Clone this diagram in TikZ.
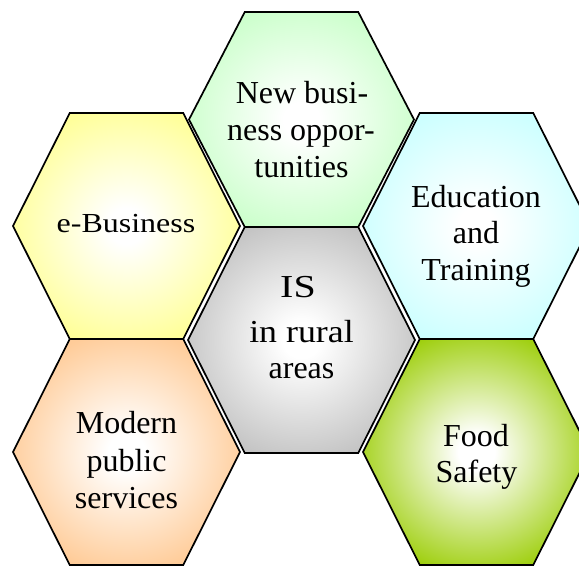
\documentclass[tikz,border=0pt]{standalone}
\usepackage{fontspec}
\setmainfont{Liberation Serif}
\pgfdeclareradialshading{shYellow}{\pgfpoint{0bp}{0bp}}{rgb(0bp)=(1,1,1);rgb(4bp)=(1,1,1);rgb(27bp)=(1,1,0.6);rgb(50bp)=(1,1,0.6)}
\pgfdeclareradialshading{shLgreen}{\pgfpoint{0bp}{0bp}}{rgb(0bp)=(1,1,1);rgb(4bp)=(1,1,1);rgb(27bp)=(0.8,1,0.8);rgb(50bp)=(0.8,1,0.8)}
\pgfdeclareradialshading{shCyan}{\pgfpoint{0bp}{0bp}}{rgb(0bp)=(1,1,1);rgb(4bp)=(1,1,1);rgb(27bp)=(0.8,1,1);rgb(50bp)=(0.8,1,1)}
\pgfdeclareradialshading{shPeach}{\pgfpoint{0bp}{0bp}}{rgb(0bp)=(1,1,1);rgb(4bp)=(1,1,1);rgb(27bp)=(1,0.8,0.6);rgb(50bp)=(1,0.8,0.6)}
\pgfdeclareradialshading{shGrey}{\pgfpoint{0bp}{0bp}}{rgb(0bp)=(1,1,1);rgb(4bp)=(1,1,1);rgb(30bp)=(0.74,0.74,0.74);rgb(50bp)=(0.74,0.74,0.74)}
\pgfdeclareradialshading{shFood}{\pgfpoint{0bp}{0bp}}{rgb(0bp)=(1,1,1);rgb(4bp)=(1,1,1);rgb(29bp)=(0.6,0.8,0);rgb(50bp)=(0.6,0.8,0)}
\tikzset{
  hexline/.style={draw=black,line width=1.7pt,line join=miter},
  lbl/.style={anchor=base,inner sep=0pt,font=\fontsize{32}{36.8}\selectfont}
}
\begin{document}
\begin{tikzpicture}[x=1pt,y=-1pt]
\useasboundingbox (0,0) rectangle (579,566);
\begin{scope}
\clip (0,0) rectangle (579,566);
% e-Business
\path[hexline,shading=shYellow] (13,226) -- (69.75,113) -- (183.25,113) -- (240,226) -- (183.25,339) -- (69.75,339) -- cycle;
% Modern public services
\path[hexline,shading=shPeach] (13,452) -- (69.75,339) -- (183.25,339) -- (240,452) -- (183.25,565) -- (69.75,565) -- cycle;
% New business opportunities
\path[hexline,shading=shLgreen] (189,119.5) -- (244.75,12) -- (358.25,12) -- (414,119.5) -- (358.25,227) -- (244.75,227) -- cycle;
% IS in rural areas
\path[hexline,shading=shGrey] (188,340) -- (244.75,227) -- (358.25,227) -- (415,340) -- (358.25,453) -- (244.75,453) -- cycle;
% Education and Training
\path[hexline,shading=shCyan] (363,226) -- (419.75,113) -- (533.25,113) -- (590,226) -- (533.25,339) -- (419.75,339) -- cycle;
% Food Safety
\path[hexline,shading=shFood] (363,452) -- (419.75,339) -- (533.25,339) -- (590,452) -- (533.25,565) -- (419.75,565) -- cycle;
\end{scope}
% labels
\node[lbl] (eb) at (126,232) {\scalebox{1}[0.86]{e-Business}};
\node[lbl] (nb1) at (302,103) {New busi-};
\node[lbl] (nb2) at (301,140) {ness oppor-};
\node[lbl] (nb3) at (301.5,177) {tunities};
\node[lbl] (ed1) at (476,207) {Education};
\node[lbl] (ed2) at (476,243.5) {and};
\node[lbl] (ed3) at (476,280) {Training};
\node[lbl] (is1) at (298,297) {\scalebox{1.25}[1]{IS}};
\node[lbl] (is2) at (301.5,342) {\scalebox{1.12}[1]{in rural}};
\node[lbl] (is3) at (301.5,378) {areas};
\node[lbl] (mp1) at (126.5,433.5) {Modern};
\node[lbl] (mp2) at (126.5,471) {public};
\node[lbl] (mp3) at (126.5,508) {services};
\node[lbl] (fs1) at (476,446) {Food};
\node[lbl] (fs2) at (476.5,482.5) {Safety};
\end{tikzpicture}
\end{document}
